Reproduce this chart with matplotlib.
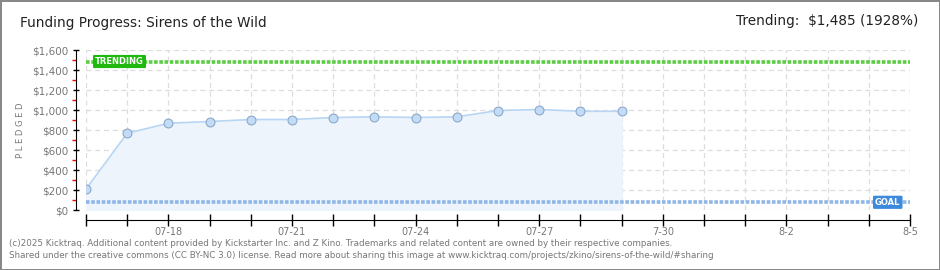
import numpy as np
import matplotlib.pyplot as plt
from matplotlib.ticker import FixedLocator, MultipleLocator, FuncFormatter

# ---- data ----
day_labels = ["07-16", "07-17", "07-18", "07-19", "07-20", "07-21", "07-22",
              "07-23", "07-24", "07-25", "07-26", "07-27", "07-28", "07-29"]
pledged = [210, 767, 868, 885, 905, 905, 925, 932, 925, 932, 995, 1005, 987, 987]

axis_days = 21  # 07-16 .. 08-05
tick_names = {2: "07-18", 5: "07-21", 8: "07-24", 11: "07-27",
              14: "7-30", 17: "8-2", 20: "8-5"}

goal = 77
trending = 1485
trending_pct = 1928
title = "Funding Progress: Sirens of the Wild"

footer1 = ("(c)2025 Kicktraq. Additional content provided by Kickstarter Inc. and Z Kino. "
           "Trademarks and related content are owned by their respective companies.")
footer2 = ("Shared under the creative commons (CC BY-NC 3.0) license. Read more about sharing "
           "this image at www.kicktraq.com/projects/zkino/sirens-of-the-wild/#sharing")

plt.rcParams["font.family"] = ["DejaVu Sans"]

fig = plt.figure(figsize=(9.4, 2.7), dpi=100)
fig.patch.set_facecolor("white")
fig.patch.set_edgecolor("#888888")
fig.patch.set_linewidth(2)

ax = fig.add_axes([86 / 940, 60 / 270, 824 / 940, 160 / 270])

x = np.arange(len(pledged))
ax.fill_between(x, pledged, 0, color="#edf4fc", zorder=1)
ax.plot(x, pledged, color="#b8d6f4", lw=1.2, zorder=3)
ax.plot(x, pledged, "o", ms=6.4, mfc="#c2dcf7", mec="#8ea8c8", mew=0.8, zorder=4)

# trending / goal lines
ax.axhline(trending, color="#5ccd44", lw=2.6, ls=(0, (1.0, 0.45)), zorder=2)
ax.axhline(goal, color="#8fb6e6", lw=2.6, ls=(0, (1.0, 0.45)), zorder=2)
ax.text(0.011, trending, "TRENDING", transform=ax.get_yaxis_transform(),
        ha="left", va="center", color="white", fontsize=6, fontweight="bold",
        bbox=dict(boxstyle="round,pad=0.25,rounding_size=0.15", fc="#1fb80f", ec="none"),
        zorder=5)
ax.text(0.973, goal, "GOAL", transform=ax.get_yaxis_transform(),
        ha="center", va="center", color="white", fontsize=6, fontweight="bold",
        bbox=dict(boxstyle="round,pad=0.25,rounding_size=0.15", fc="#3c8ade", ec="none"),
        zorder=5)

ax.set_xlim(0, axis_days - 1)
ax.set_ylim(0, 1600)

# ticks
ax.xaxis.set_major_locator(FixedLocator(range(axis_days)))
ax.set_xticklabels([tick_names.get(i, "") for i in range(axis_days)])
ax.yaxis.set_major_locator(MultipleLocator(200))
ax.yaxis.set_minor_locator(MultipleLocator(100))
ax.yaxis.set_major_formatter(FuncFormatter(lambda v, p: "\\$" + format(int(v), ",")))

ax.tick_params(axis="x", direction="inout", length=8, width=1, color="black",
               labelsize=7, labelcolor="#777777", pad=1)
ax.tick_params(axis="y", which="major", direction="inout", length=5, width=1,
               color="black", labelsize=7.5, labelcolor="#777777", pad=3)
ax.tick_params(axis="y", which="minor", direction="out", length=3, width=1, color="red")

for s in ["top", "right"]:
    ax.spines[s].set_visible(False)
ax.spines["left"].set_position(("outward", 7.2))
ax.spines["bottom"].set_position(("outward", 7.2))

ax.grid(True, which="major", color="#dddddd", ls=(0, (4, 3)), lw=0.9, zorder=0)
ax.set_axisbelow(True)
ax.set_ylabel("P L E D G E D", color="#777777", fontsize=6, labelpad=5)

fig.text(20 / 940, 1 - 23 / 270, title, ha="left", va="center",
         fontsize=9.8, color="#222222")
fig.text(918 / 940, 1 - 21 / 270,
         "Trending:  \\$1,485 (" + str(trending_pct) + "%)",
         ha="right", va="center", fontsize=9.8, color="#222222")
fig.text(9 / 940, 1 - 243 / 270, footer1, ha="left", va="center", fontsize=6.3, color="#777777")
fig.text(9 / 940, 1 - 256 / 270, footer2, ha="left", va="center", fontsize=6.3, color="#777777")

fig.savefig("out.png", dpi=100, facecolor=fig.get_facecolor(), edgecolor=fig.get_edgecolor())
